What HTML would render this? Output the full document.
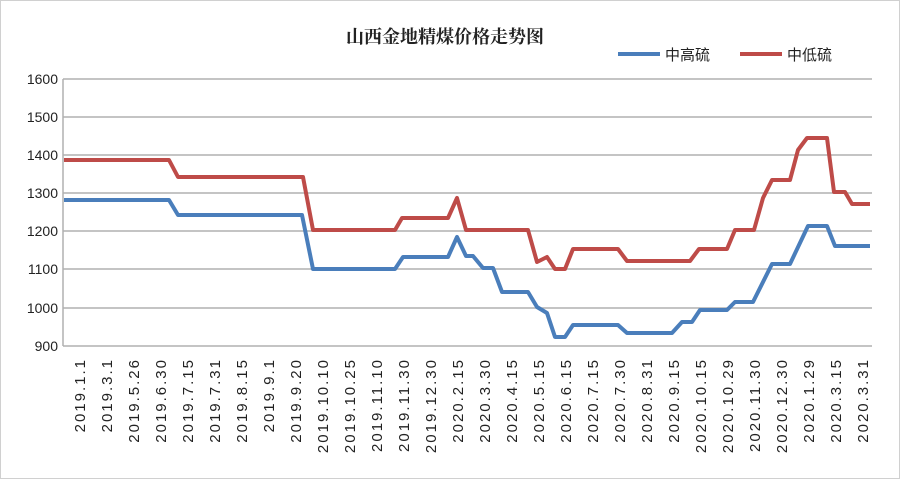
<!DOCTYPE html><html><head><meta charset="utf-8"><style>body{margin:0;background:#fff}</style></head><body>
<svg width="900" height="479" viewBox="0 0 900 479" xmlns="http://www.w3.org/2000/svg" font-family="'Liberation Sans','Noto Sans CJK SC',sans-serif">
<rect x="0.5" y="0.5" width="899" height="478" fill="#fff" stroke="#d0d0d0"/>
<text x="445" y="43" text-anchor="middle" font-size="18" font-weight="bold" font-family="'Liberation Serif','Noto Serif CJK SC',serif" fill="#222">山西金地精煤价格走势图</text>
<line x1="618" y1="54" x2="660" y2="54" stroke="#4a7ebb" stroke-width="4"/>
<text x="665" y="60" font-size="15" fill="#222">中高硫</text>
<line x1="740" y1="54" x2="782" y2="54" stroke="#be4b48" stroke-width="4"/>
<text x="787" y="60" font-size="15" fill="#222">中低硫</text>
<g stroke="#b0b0b0" stroke-width="1.5">
<line x1="63" y1="79" x2="872" y2="79"/><line x1="63" y1="117" x2="872" y2="117"/><line x1="63" y1="155" x2="872" y2="155"/><line x1="63" y1="193" x2="872" y2="193"/><line x1="63" y1="231" x2="872" y2="231"/><line x1="63" y1="269" x2="872" y2="269"/><line x1="63" y1="308" x2="872" y2="308"/><line x1="63" y1="346" x2="872" y2="346"/><line x1="63" y1="79" x2="63" y2="346"/>
</g>
<g font-size="14" fill="#222" text-anchor="end">
<text x="58" y="84">1600</text><text x="58" y="122">1500</text><text x="58" y="160">1400</text><text x="58" y="198">1300</text><text x="58" y="236">1200</text><text x="58" y="274">1100</text><text x="58" y="313">1000</text><text x="58" y="351">900</text>
</g>
<polyline fill="none" stroke="#be4b48" stroke-width="4" stroke-linejoin="round" points="64,160 169,160 178,177 303,177 313,230 395,230 402,218 448,218 457,198 466,230 528,230 537,262 547,257 555,269 565,269 573,249 618,249 627,261 690,261 699,249 727,249 735,230 754,230 763,198 772,180 790,180 798,150 807,138 827,138 834,192 845,192 852,204 870,204"/>
<polyline fill="none" stroke="#4a7ebb" stroke-width="4" stroke-linejoin="round" points="64,200 169,200 178,215 302,215 313,269 395,269 403,257 448,257 457,237 466,256 473,256 483,268 493,268 502,292 528,292 537,307 547,313 555,337 565,337 573,325 618,325 627,333 672,333 682,322 692,322 700,310 727,310 735,302 753,302 772,264 790,264 808,226 827,226 835,246 870,246"/>
<g font-size="15" fill="#222" text-anchor="end" letter-spacing="2">
<text transform="translate(85,358) rotate(-90)">2019.1.1</text>
<text transform="translate(112,358) rotate(-90)">2019.3.1</text>
<text transform="translate(139,358) rotate(-90)">2019.5.26</text>
<text transform="translate(166,358) rotate(-90)">2019.6.30</text>
<text transform="translate(193,358) rotate(-90)">2019.7.15</text>
<text transform="translate(220,358) rotate(-90)">2019.7.31</text>
<text transform="translate(247,358) rotate(-90)">2019.8.15</text>
<text transform="translate(274,358) rotate(-90)">2019.9.1</text>
<text transform="translate(301,358) rotate(-90)">2019.9.20</text>
<text transform="translate(328,358) rotate(-90)">2019.10.10</text>
<text transform="translate(355,358) rotate(-90)">2019.10.25</text>
<text transform="translate(382,358) rotate(-90)">2019.11.10</text>
<text transform="translate(409,358) rotate(-90)">2019.11.30</text>
<text transform="translate(436,358) rotate(-90)">2019.12.30</text>
<text transform="translate(463,358) rotate(-90)">2020.2.15</text>
<text transform="translate(490,358) rotate(-90)">2020.3.30</text>
<text transform="translate(517,358) rotate(-90)">2020.4.15</text>
<text transform="translate(544,358) rotate(-90)">2020.5.15</text>
<text transform="translate(571,358) rotate(-90)">2020.6.15</text>
<text transform="translate(598,358) rotate(-90)">2020.7.15</text>
<text transform="translate(625,358) rotate(-90)">2020.7.30</text>
<text transform="translate(652,358) rotate(-90)">2020.8.31</text>
<text transform="translate(679,358) rotate(-90)">2020.9.15</text>
<text transform="translate(706,358) rotate(-90)">2020.10.15</text>
<text transform="translate(733,358) rotate(-90)">2020.10.29</text>
<text transform="translate(760,358) rotate(-90)">2020.11.30</text>
<text transform="translate(787,358) rotate(-90)">2020.12.30</text>
<text transform="translate(814,358) rotate(-90)">2020.1.29</text>
<text transform="translate(841,358) rotate(-90)">2020.3.15</text>
<text transform="translate(868,358) rotate(-90)">2020.3.31</text>
</g>
</svg>
</body></html>
